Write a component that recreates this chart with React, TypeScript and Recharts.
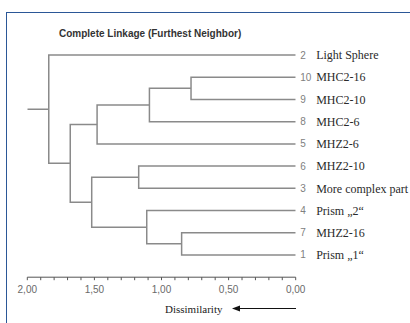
import { ComposedChart, Line, XAxis, YAxis } from 'recharts'

// leaf order top to bottom
const leafIds = ['2', '10', '9', '8', '5', '6', '3', '4', '7', '1']
const leafNames = [
  'Light Sphere',
  'MHC2-16',
  'MHC2-10',
  'MHC2-6',
  'MHZ2-6',
  'MHZ2-10',
  'More complex part',
  'Prism \u201E2\u201C',
  'MHZ2-16',
  'Prism \u201E1\u201C',
]

// linkage: node ids 0..9 are leaves, 10+k is the cluster made by merge k
const mergeA = [1, 8, 10, 7, 5, 12, 14, 15, 0]
const mergeB = [2, 9, 3, 11, 6, 4, 13, 16, 17]
const mergeHeights = [0.78, 0.85, 1.09, 1.11, 1.17, 1.48, 1.52, 1.68, 1.84]
const rootTail = 2.0

const xTicks = [0, 0.1, 0.2, 0.3, 0.4, 0.5, 0.6, 0.7, 0.8, 0.9, 1.0, 1.1, 1.2, 1.3, 1.4, 1.5, 1.6, 1.7, 1.8, 1.9, 2.0]
const yTicks = [0, 1, 2, 3, 4, 5, 6, 7, 8, 9]

type Pt = { d: number; y: number }

function buildLinks() {
  const pos: number[] = leafIds.map((_, i) => i)
  const height: number[] = leafIds.map(() => 0)
  const links: Pt[][] = []
  mergeHeights.forEach((h, k) => {
    const a = mergeA[k]
    const b = mergeB[k]
    links.push([
      { d: height[a], y: pos[a] },
      { d: h, y: pos[a] },
      { d: h, y: pos[b] },
      { d: height[b], y: pos[b] },
    ])
    pos.push((pos[a] + pos[b]) / 2)
    height.push(h)
  })
  const root = pos.length - 1
  links.push([
    { d: height[root], y: pos[root] },
    { d: rootTail, y: pos[root] },
  ])
  return links
}

const links = buildLinks()

const fmtTick = (v: number) => {
  const r = Math.round(v * 2)
  if (Math.abs(v * 2 - r) > 1e-6) return ''
  return v.toFixed(2).replace('.', ',')
}

const LeafTick = (props: any) => {
  const { x, y, payload } = props
  const i = payload.value as number
  return (
    <g>
      <text x={x + 4.5} y={y} dy="0.35em" fontSize={10} fill="#808080" fontFamily="Liberation Sans, Arial, sans-serif">
        {leafIds[i]}
      </text>
      <text x={x + 20.5} y={y} dy="0.35em" fontSize={12} fill="#2a2a2a" fontFamily="Liberation Serif, 'Times New Roman', serif">
        {leafNames[i]}
      </text>
    </g>
  )
}

export default function App() {
  return (
    <div style={{ position: 'absolute', left: 0, top: 0, width: 410, height: 323, background: '#fff', overflow: 'hidden' }}>
      <div
        style={{
          position: 'absolute',
          left: 6,
          top: 12,
          width: 420,
          height: 330,
          borderLeft: '1.5px solid #2b5797',
          borderTop: '1.5px solid #2b5797',
        }}
      />
      <div style={{ position: 'absolute', left: 0, top: 0 }}>
        <ComposedChart width={410} height={323} margin={{ top: 32.8, right: 4.3, bottom: 15.8, left: 27.3 }}>
          <XAxis
            dataKey="d"
            type="number"
            domain={[0, 2]}
            reversed
            ticks={xTicks}
            tickFormatter={fmtTick}
            interval={0}
            height={30}
            tickSize={3}
            tickMargin={6}
            stroke="#555"
            tick={{ fontSize: 10, fill: '#6a6a6a', fontFamily: 'Liberation Sans, Arial, sans-serif' }}
            allowDataOverflow
          />
          <YAxis
            orientation="right"
            type="number"
            domain={[-1, 10]}
            reversed
            ticks={yTicks}
            interval={0}
            width={110}
            axisLine={false}
            tickLine={false}
            tickSize={0}
            tickMargin={0}
            tick={<LeafTick />}
            allowDataOverflow
          />
          {links.map((pts, i) => (
            <Line
              key={i}
              data={pts}
              dataKey="y"
              type="linear"
              stroke="#8a8a8a"
              strokeWidth={1.5}
              dot={false}
              activeDot={false}
              isAnimationActive={false}
            />
          ))}
        </ComposedChart>
      </div>
      <svg width={410} height={323} style={{ position: 'absolute', left: 0, top: 0, pointerEvents: 'none' }}>
        <text x={59} y={37} fontSize={10} fontWeight="bold" fill="#333" fontFamily="Liberation Sans, Arial, sans-serif">
          Complete Linkage (Furthest Neighbor)
        </text>
        <text x={165} y={313} fontSize={11} fill="#1a1a1a" fontFamily="Liberation Serif, 'Times New Roman', serif">
          Dissimilarity
        </text>
        <line x1={238} y1={308.5} x2={296} y2={308.5} stroke="#111" strokeWidth={1.2} />
        <polygon points="232,308.5 240,305.5 240,311.5" fill="#111" />
      </svg>
    </div>
  )
}
